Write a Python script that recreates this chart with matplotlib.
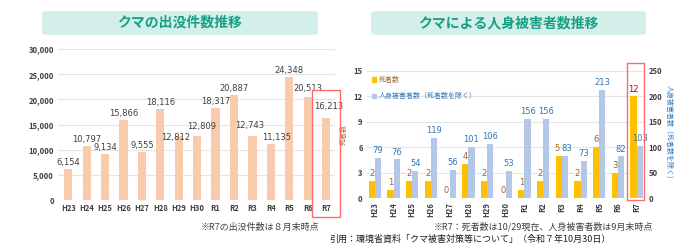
import matplotlib
matplotlib.use("Agg")
import matplotlib.pyplot as plt
from matplotlib.patches import FancyBboxPatch, Rectangle, Patch
import numpy as np

plt.rcParams['font.family'] = ['Noto Sans CJK JP', 'DejaVu Sans']

years = ["H23", "H24", "H25", "H26", "H27", "H28", "H29", "H30",
         "R1", "R2", "R3", "R4", "R5", "R6", "R7"]
sightings = [6154, 10797, 9134, 15866, 9555, 18116, 12812, 12809,
             18317, 20887, 12743, 11135, 24348, 20513, 16213]
deaths = [2, 1, 2, 2, 0, 4, 2, 0, 1, 2, 5, 2, 6, 3, 12]
injured = [79, 76, 54, 119, 56, 101, 106, 53, 156, 156, 83, 73, 213, 82, 103]

left_title = "クマの出没件数推移"
right_title = "クマによる人身被害者数推移"
left_note = "※R7の出没件数は８月末時点"
right_note = "※R7：死者数は10/29現在、人身被害者数は9月末時点"
citation = "引用：環境省資料「クマ被害対策等について」（令和７年10月30日）"

# label nudges (points) to avoid overlapping labels, as in the reference
left_nudge = {"H29": (-2, -6), "H30": (3, 2), "R3": (-2, 3), "R4": (4, 0),
              "R6": (0, 1), "R7": (2, 4)}
death_nudge = {"R3": (-1.5, 0)}
inj_nudge = {"R3": (1.5, 0)}

fig = plt.figure(figsize=(7, 2.5), dpi=100)
fig.patch.set_facecolor("white")

tick_color = "#404040"

# ---------- left chart ----------
ax1 = fig.add_axes([0.083, 0.2, 0.396, 0.604])
x = np.arange(len(years))
ax1.bar(x, sightings, width=0.45, color="#f8cbad", zorder=2)
ax1.set_ylim(0, 30000)
ax1.set_yticks(range(0, 30001, 5000))
ax1.set_yticklabels([f"{v:,}" for v in range(0, 30001, 5000)])
ax1.set_xlim(-0.55, 14.5)
ax1.set_xticks(x)
ax1.set_xticklabels(years)
for s in ax1.spines.values():
    s.set_visible(False)
ax1.grid(axis="y", color="#e4e4e4", linewidth=0.8, zorder=0)
ax1.tick_params(axis="both", length=0, labelsize=5.5, colors=tick_color, pad=3)
for lab in ax1.get_xticklabels() + ax1.get_yticklabels():
    lab.set_fontweight("bold")
for xi, v in zip(x, sightings):
    dx, dy = left_nudge.get(years[xi], (0, 0))
    ax1.annotate(f"{v:,}", (xi, v), xytext=(dx, 1.5 + dy), textcoords="offset points",
                 ha="center", va="bottom", fontsize=6, color="#404040",
                 family=['DejaVu Sans'], zorder=4)

# ---------- right chart ----------
ax2 = fig.add_axes([0.524, 0.208, 0.397, 0.508])
ax3 = ax2.twinx()
w = 0.33
ax2.bar(x - w / 2, deaths, width=w, color="#ffc000", zorder=3)
ax3.bar(x + w / 2, injured, width=w, color="#b4c7e7", zorder=3)
ax2.set_ylim(0, 15)
ax2.set_yticks(range(0, 16, 3))
ax3.set_ylim(0, 250)
ax3.set_yticks(range(0, 251, 50))
ax2.set_xlim(-0.43, 14.43)
ax2.set_xticks(x)
ax2.set_xticklabels(years, rotation=90)
for a in (ax2, ax3):
    for s in a.spines.values():
        s.set_visible(False)
    a.tick_params(axis="both", length=0, labelsize=5.5, colors=tick_color, pad=3)
    for lab in a.get_xticklabels() + a.get_yticklabels():
        lab.set_fontweight("bold")
ax2.grid(axis="y", color="#e4e4e4", linewidth=0.8, zorder=0)
ax2.set_axisbelow(True)
ax3.set_axisbelow(True)
ax2.set_ylabel("死者数", fontsize=5, color="#a0622d", labelpad=4)
ax3.set_ylabel("人身被害者数（死者数を除く）", fontsize=5, color="#2e75b6",
               rotation=270, labelpad=7)

for xi, v in zip(x, deaths):
    col = "#c00000" if years[xi] == "R7" else "#a0622d"
    dx, dy = death_nudge.get(years[xi], (0, 0))
    ax2.annotate(f"{v}", (xi - w / 2, v), xytext=(dx, 2 + dy), textcoords="offset points",
                 ha="center", va="bottom", fontsize=6, color=col,
                 family=['DejaVu Sans'])
for xi, v in zip(x, injured):
    dx, dy = inj_nudge.get(years[xi], (0, 0))
    ax3.annotate(f"{v}", (xi + w / 2, v), xytext=(dx, 2 + dy), textcoords="offset points",
                 ha="center", va="bottom", fontsize=6, color="#2e75b6",
                 family=['DejaVu Sans'])

handles = [Patch(color="#ffc000"), Patch(color="#b4c7e7")]
leg = ax3.legend(handles, ["死者数", "人身被害者数（死者数を除く）"],
                 loc="upper left", bbox_to_anchor=(0.0, 1.0), frameon=False,
                 fontsize=5, handlelength=0.6, handleheight=0.6,
                 handletextpad=0.4, labelspacing=1.2, borderaxespad=0.3)
leg.get_texts()[0].set_color("#a0622d")
leg.get_texts()[1].set_color("#2e75b6")

# ---------- title boxes ----------
for (x0, wd, txt) in [(0.06, 0.394, left_title), (0.53, 0.393, right_title)]:
    box = FancyBboxPatch((x0, 0.86), wd, 0.096, transform=fig.transFigure,
                         boxstyle="round,pad=0,rounding_size=0.01",
                         facecolor="#d4eee9", edgecolor="none", zorder=0)
    fig.patches.append(box)
    fig.text(x0 + wd / 2, 0.86 + 0.048, txt, ha="center", va="center",
             fontsize=10, fontweight="bold", color="#17a085")

# ---------- red highlight boxes ----------
fig.patches.append(Rectangle((0.446, 0.132), 0.04, 0.508, transform=fig.transFigure,
                             fill=False, edgecolor="#ff6b6b", linewidth=1, zorder=5))
fig.patches.append(Rectangle((0.896, 0.2), 0.024, 0.548, transform=fig.transFigure,
                             fill=False, edgecolor="#ff6b6b", linewidth=1, zorder=5))

# ---------- notes ----------
fig.text(0.372, 0.092, left_note, ha="center", va="center", fontsize=6.5, color="#404040")
fig.text(0.776, 0.092, right_note, ha="center", va="center", fontsize=6.5, color="#404040")
fig.text(0.471, 0.044, citation, ha="left", va="center", fontsize=6.5, color="#202020")

fig.savefig("out.png", dpi=100)
